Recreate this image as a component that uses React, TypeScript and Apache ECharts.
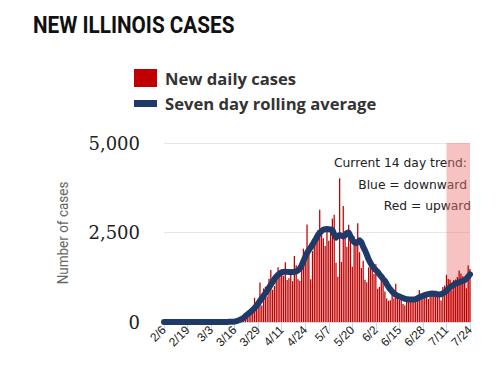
import React, { useEffect, useRef } from "react";
import * as echarts from "echarts";

// Daily new cases, 2/6 .. 7/24
const febDaily = [0,0,0,0,0,0,0,0,0,0,0,0,0,0,0,0,0,0,0,0,0,0,0,0];
const marDaily = [0,1,0,0,1,0,1,1,3,4,8,6,7,14,18,29,12,55,128,134,163,168,296,236,250,330,673,488,465,1105,461];
const aprDaily = [937,986,715,1209,1453,899,1006,1287,1529,1344,1465,1293,1672,1173,1222,1346,1140,1842,1585,1197,1151,1551,2049,1826,2724,2119,1197,1980,2219,2253];
const mayDaily = [2563,3137,2450,2341,2122,2545,2270,2641,2887,2994,1656,1266,4014,1677,3239,2432,2105,2713,2294,1545,2388,2268,2758,1951,1507,1713,1178,1111,1527,1622,1462];
const junDaily = [1343,1614,929,982,1156,1097,855,658,594,610,813,664,1065,743,623,623,506,462,658,706,672,613,690,715,601,894,723,668,806,738];
const julDaily = [641,869,845,806,876,710,770,603,980,1018,1317,1198,1179,888,1173,1187,1257,1439,1358,1276,1174,941,1580,1480];

// Seven day rolling average
const febAvg = [0,0,0,0,0,0,0,0,0,0,0,0,0,0,0,0,0,0,0,0,0,0,0,0];
const marAvg = [0,0,0,0,0,0,0,0,0,1,2,3,4,6,9,14,25,42,62,88,115,170,210,250,290,340,390,450,520,590,660];
const aprAvg = [730,800,880,960,1040,1120,1200,1270,1320,1360,1390,1400,1405,1400,1395,1390,1400,1400,1410,1440,1490,1580,1700,1820,1930,2010,2080,2160,2250,2330];
const mayAvg = [2430,2490,2540,2580,2590,2595,2590,2585,2570,2450,2360,2400,2430,2410,2390,2420,2490,2500,2400,2290,2230,2200,2240,2280,2230,2100,2000,1880,1750,1650,1570];
const junAvg = [1500,1450,1400,1330,1270,1200,1150,1060,980,910,850,800,760,730,710,690,670,650,640,630,630,630,630,640,660,690,715,730,750,770];
const julAvg = [780,790,795,790,780,775,770,775,800,830,870,930,970,1010,1040,1070,1090,1110,1130,1150,1170,1210,1270,1330];

const months = [
  { m: 2, first: 6, last: 29 },
  { m: 3, first: 1, last: 31 },
  { m: 4, first: 1, last: 30 },
  { m: 5, first: 1, last: 31 },
  { m: 6, first: 1, last: 30 },
  { m: 7, first: 1, last: 24 },
];

const yTicks = [0, 2500, 5000];
const trendStart = "7/11";
const trendEnd = "7/24";
const trendNotes = ["Current 14 day trend:", "Blue = downward", "Red = upward"];

const categories: string[] = [];
months.forEach(({ m, first, last }) => {
  for (let d = first; d <= last; d++) categories.push(`${m}/${d}`);
});

const daily = [...febDaily, ...marDaily, ...aprDaily, ...mayDaily, ...junDaily, ...julDaily];
const rolling = [...febAvg, ...marAvg, ...aprAvg, ...mayAvg, ...junAvg, ...julAvg];

export default function App() {
  const ref = useRef<HTMLDivElement>(null);

  useEffect(() => {
    document.body.style.margin = "0";
    if (!ref.current) return;
    const chart = echarts.init(ref.current, null, { renderer: "svg" });
    const legendText = {
      fontFamily: "'Open Sans', sans-serif",
      fontSize: 16.6,
      fontWeight: "bold" as const,
      color: "#333",
      padding: [0, 0, 0, 3],
    };
    const noteStyle = {
      fontFamily: "'DejaVu Sans', sans-serif",
      fontSize: 12.3,
      fill: "#222",
      textAlign: "right" as const,
      textVerticalAlign: "middle" as const,
    };
    chart.setOption({
      animation: false,
      backgroundColor: "#fff",
      legend: [
        {
          data: ["New daily cases"],
          left: 134,
          top: 69,
          padding: 0,
          itemWidth: 23,
          itemHeight: 18,
          icon: "rect",
          textStyle: legendText,
          selectedMode: false,
        },
        {
          data: ["Seven day rolling average"],
          left: 134,
          top: 95,
          padding: 0,
          itemWidth: 23,
          itemHeight: 7,
          icon: "rect",
          textStyle: legendText,
          selectedMode: false,
        },
      ],
      grid: { left: 164, right: 30, top: 143, bottom: 49 },
      xAxis: {
        type: "category",
        data: categories,
        boundaryGap: false,
        axisLine: { lineStyle: { color: "#ccd6eb", width: 1 } },
        axisTick: { show: true, interval: 12, length: 10, lineStyle: { color: "#ccd6eb" } },
        axisLabel: {
          interval: 12,
          rotate: 45,
          fontSize: 12,
          color: "#222",
          fontFamily: "'Liberation Sans', Arial, sans-serif",
          margin: 6,
        },
        splitLine: { show: false },
      },
      yAxis: {
        type: "value",
        min: 0,
        max: yTicks[yTicks.length - 1],
        interval: yTicks[1] - yTicks[0],
        axisLine: { show: false },
        axisTick: { show: false },
        axisLabel: {
          fontFamily: "'DejaVu Serif', 'Liberation Serif', serif",
          fontSize: 18,
          color: "#222",
          margin: 24,
          formatter: (v: number) => v.toLocaleString("en-US"),
        },
        splitLine: { lineStyle: { color: "#e6e6e6" } },
      },
      series: [
        {
          name: "trend",
          type: "line",
          data: [],
          z: 1,
          silent: true,
          markArea: {
            silent: true,
            itemStyle: { color: "rgba(235,120,120,0.45)" },
            data: [[{ xAxis: trendStart }, { xAxis: trendEnd }]],
          },
        },
        {
          name: "New daily cases",
          type: "bar",
          data: daily,
          z: 2,
          barCategoryGap: "30%",
          itemStyle: { color: "#c00000" },
        },
        {
          name: "Seven day rolling average",
          type: "line",
          data: rolling,
          z: 3,
          showSymbol: false,
          symbol: "none",
          itemStyle: { color: "#1f3a68" },
          lineStyle: { color: "#1f3a68", width: 6, cap: "round", join: "round" },
        },
      ],
      graphic: [
        {
          type: "text",
          x: 33,
          y: 14,
          scaleX: 0.9,
          style: {
            text: "NEW ILLINOIS CASES",
            fontFamily: "Roboto, sans-serif",
            fontWeight: "bold",
            fontSize: 23,
            fill: "#111",
            textVerticalAlign: "top",
          },
        },
        {
          type: "text",
          x: 63,
          y: 233,
          rotation: Math.PI / 2,
          scaleX: 0.9,
          style: {
            text: "Number of cases",
            fontFamily: "Roboto, sans-serif",
            fontSize: 15,
            fill: "#666",
            textAlign: "center",
            textVerticalAlign: "middle",
          },
        },
        { type: "text", x: 467, y: 163, style: { ...noteStyle, text: trendNotes[0] } },
        { type: "text", x: 467, y: 185, style: { ...noteStyle, text: trendNotes[1] } },
        { type: "text", x: 471, y: 206, style: { ...noteStyle, text: trendNotes[2] } },
      ],
    });
    return () => chart.dispose();
  }, []);

  return <div ref={ref} style={{ width: 500, height: 371 }} />;
}
